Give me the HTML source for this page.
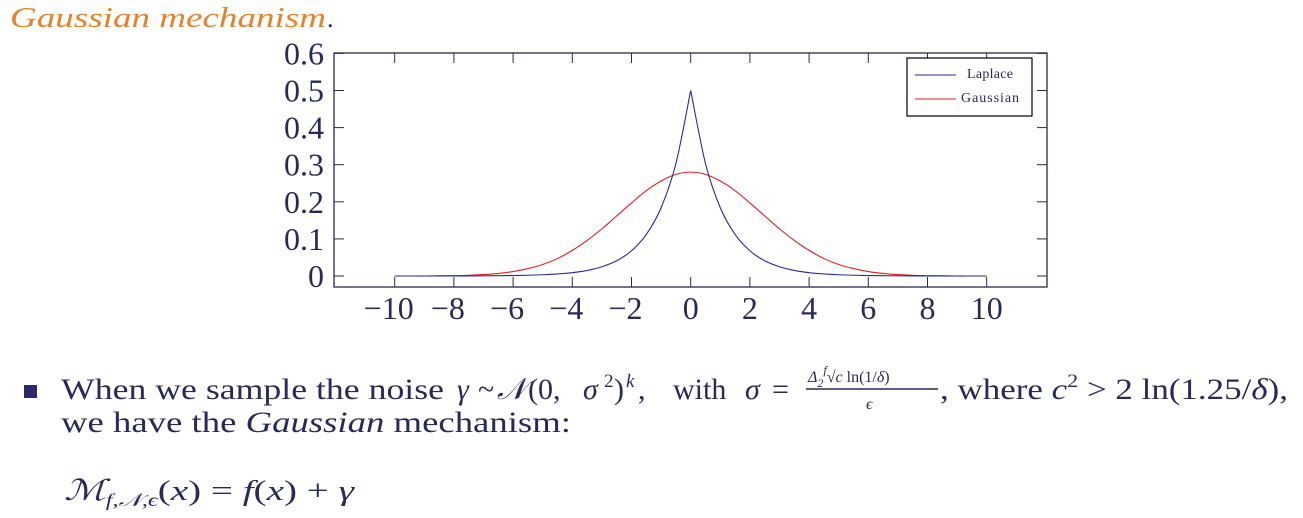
<!DOCTYPE html>
<html><head><meta charset="utf-8"><style>
body{margin:0;background:#fff;width:1303px;height:518px;overflow:hidden}
svg{display:block;font-family:"Liberation Serif",serif}
</style></head><body>
<svg id="chart" width="1303" height="518">
<text x="10" y="27" font-size="29" font-style="italic" fill="#e8822a" textLength="316" lengthAdjust="spacingAndGlyphs">Gaussian mechanism</text>
<text x="327" y="27" font-size="26" fill="#2a2a5a">.</text>
<g id="axes"></g>
<g id="plot"></g>
<g>
<rect x="907" y="58" width="125" height="58" fill="#fff" stroke="#000" stroke-width="1.2"/>
<line x1="915" y1="75" x2="956" y2="75" stroke="#2a2a8a" stroke-width="1"/>
<text x="967" y="78" font-size="14" fill="#2a2a5a" textLength="46">Laplace</text>
<line x1="915" y1="99" x2="956" y2="99" stroke="#e02020" stroke-width="1"/>
<text x="961" y="102" font-size="14" fill="#2a2a5a" textLength="58">Gaussian</text>
</g>
<rect x="24" y="385" width="13" height="13" fill="#2a2a6a"/>
<g font-size="30" fill="#2a2a5a">
<text x="61" y="399" textLength="383" lengthAdjust="spacingAndGlyphs">When we sample the noise</text>
<text x="457" y="399" font-style="italic">γ</text>
<text x="478" y="399">~</text>
<text x="497" y="399" font-style="italic">𝒩</text>
<text x="528" y="399">(0,</text>
<text x="583" y="399" font-style="italic">σ</text>
<text x="604" y="387" font-size="19">2</text>
<text x="614" y="399">)</text>
<text x="626" y="387" font-size="19" font-style="italic">k</text>
<text x="638" y="399">,</text>
<text x="673" y="399">with</text>
<text x="745" y="399" font-style="italic">σ</text>
<text x="772" y="399">=</text>
</g>
<text x="808" y="382" font-size="16" fill="#2a2a5a" font-style="italic">Δ<tspan font-size="12" dy="5">2</tspan><tspan font-size="12" dy="-13">f</tspan><tspan dy="8" font-style="normal">√</tspan><tspan>c</tspan><tspan font-style="normal"> ln(1/</tspan>δ<tspan font-style="normal">)</tspan></text>
<line x1="806" y1="389" x2="938" y2="389" stroke="#2a2a5a" stroke-width="1.5"/>
<text x="866" y="409" font-size="16" font-style="italic" fill="#2a2a5a">ϵ</text>
<text x="940" y="399" font-size="30" fill="#2a2a5a" textLength="348" lengthAdjust="spacingAndGlyphs">, where <tspan font-style="italic">c</tspan><tspan font-size="19" dy="-12">2</tspan><tspan dy="12"> &gt; 2 ln(1.25/</tspan><tspan font-style="italic">δ</tspan>),</text>
<text x="61" y="432" font-size="30" fill="#2a2a5a" textLength="510" lengthAdjust="spacingAndGlyphs">we have the <tspan font-style="italic">Gaussian</tspan> mechanism:</text>
<text x="64" y="500" font-size="29" font-style="italic" fill="#2a2a5a" textLength="290" lengthAdjust="spacingAndGlyphs">ℳ<tspan font-size="18" dy="6">f,𝒩,ϵ</tspan><tspan dy="-6" font-style="normal">(</tspan>x<tspan font-style="normal">) = </tspan>f<tspan font-style="normal">(</tspan>x<tspan font-style="normal">) + </tspan>γ</text>
</svg>
<script>
const xTicks=[-10,-8,-6,-4,-2,0,2,4,6,8,10];
const yTicks=[0,0.1,0.2,0.3,0.4,0.5,0.6];
const xs=[0,0.5,1,1.5,2,2.5,3,3.5,4,4.5,5,5.5,6,6.5,7,7.5,8,8.5,9,9.5,10];
const laplace=[0.5,0.303,0.184,0.112,0.068,0.041,0.025,0.015,0.009,0.0056,0.0034,0.002,0.0012,0.0008,0.0005,0.0003,0.0002,0.0001,0,0,0];
const gaussian=[0.28,0.274,0.256,0.23,0.197,0.162,0.127,0.096,0.069,0.047,0.031,0.02,0.012,0.0069,0.0038,0.002,0.001,0.0005,0,0,0];
const L=334,R=1047,T=53,B=287;
const X=v=>690.7+v*29.6, Y=v=>276-v*371;
const ns="http://www.w3.org/2000/svg";
const axes=document.getElementById('axes'), plot=document.getElementById('plot');
function mk(tag,attrs,parent){const e=document.createElementNS(ns,tag);for(const k in attrs)e.setAttribute(k,attrs[k]);parent.appendChild(e);return e;}
const frame=mk('rect',{x:L,y:T,width:R-L,height:B-T,fill:'none',stroke:'#2a2a4a','stroke-width':1.3},axes);


xTicks.forEach(t=>{
 mk('line',{x1:X(t),x2:X(t),y1:T,y2:T+10,stroke:'#2a2a4a'},axes);
 mk('line',{x1:X(t),x2:X(t),y1:B,y2:B-10,stroke:'#2a2a4a'},axes);
 const tx=mk('text',{x:X(t)+(t<0?-6:0),y:319,'font-size':32,fill:'#2a2a5a','text-anchor':'middle'},axes);
 tx.textContent=t<0?'\u2212'+(-t):String(t);
 
 
});
yTicks.forEach(t=>{
 mk('line',{x1:L,x2:L+10,y1:Y(t),y2:Y(t),stroke:'#2a2a4a'},axes);
 mk('line',{x1:R,x2:R-10,y1:Y(t),y2:Y(t),stroke:'#2a2a4a'},axes);
 const tx=mk('text',{x:324,y:Y(t)+11,'font-size':32,fill:'#2a2a5a','text-anchor':'end'},axes);
 tx.textContent=String(t);
 
 
});
function smooth(p){let d='M'+p[0][0]+','+p[0][1];for(let i=0;i<p.length-1;i++){const p0=p[i-1]||p[i],p1=p[i],p2=p[i+1],p3=p[i+2]||p2;
 d+=' C'+(p1[0]+(p2[0]-p0[0])/6)+','+(p1[1]+(p2[1]-p0[1])/6)+' '+(p2[0]-(p3[0]-p1[0])/6)+','+(p2[1]-(p3[1]-p1[1])/6)+' '+p2[0]+','+p2[1];}return d;}
function half(vals,s){const p=[];for(let i=0;i<xs.length;i++)p.push([X(s*xs[i]),Y(vals[i])]);return p;}
function curve(vals,cusp){
 if(cusp)return smooth(half(vals,-1))+' '+smooth(half(vals,1));
 const p=half(vals,-1).reverse().concat(half(vals,1).slice(1));return smooth(p);}
const g=mk('path',{d:curve(gaussian,false),fill:'none',stroke:'#e02020','stroke-width':1.1},plot);


const l=mk('path',{d:curve(laplace,true),fill:'none',stroke:'#2a2a9a','stroke-width':1.1},plot);


</script>
</body></html>
